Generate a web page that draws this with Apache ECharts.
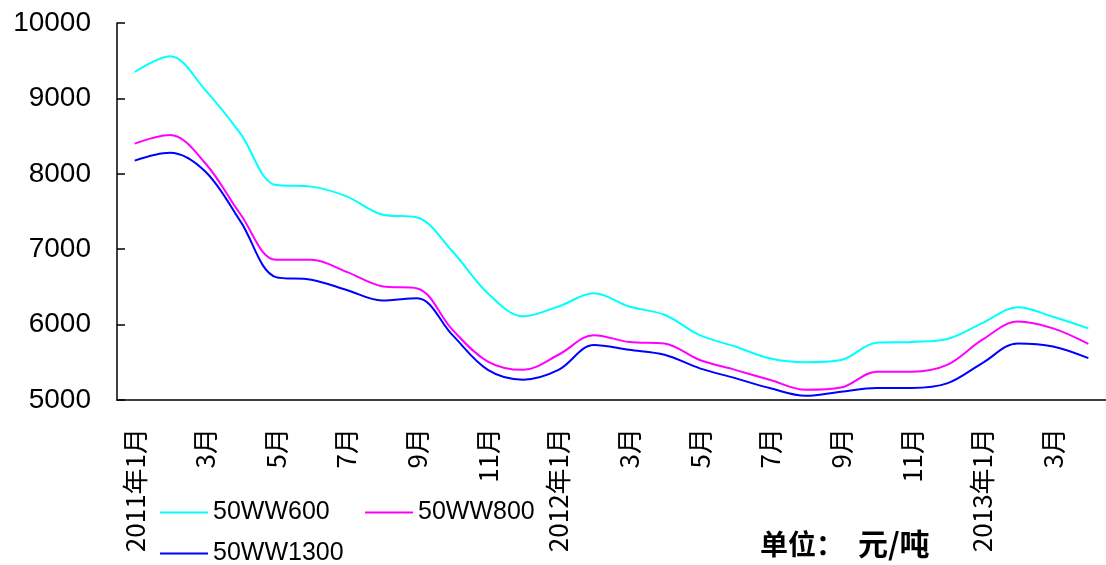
<!DOCTYPE html>
<html>
<head>
<meta charset="utf-8">
<script src="https://cdn.jsdelivr.net/npm/echarts@6/dist/echarts.min.js"></script>
<style>
html,body{margin:0;padding:0;background:#fff;}
#chart{width:1106px;height:565px;}
</style>
</head>
<body>
<div id="chart"></div>
<script>
const categories = [
  "2011年1月","2月","3月","4月","5月","6月","7月","8月","9月","10月","11月","12月",
  "2012年1月","2月","3月","4月","5月","6月","7月","8月","9月","10月","11月","12月",
  "2013年1月","2月","3月","4月"
];
const s600 = [9350,9560,9110,8530,7850,7830,7700,7460,7420,6970,6415,6110,
              6240,6415,6240,6130,5860,5710,5550,5500,5530,5760,5770,5810,
              6020,6230,6105,5950];
const s800 = [8400,8515,8140,7460,6860,6860,6700,6510,6480,5930,5510,5400,
              5600,5860,5770,5750,5530,5400,5265,5135,5165,5376,5376,5465,
              5800,6040,5950,5745];
const s1300 = [8175,8280,8030,7365,6630,6595,6460,6320,6350,5860,5400,5270,
               5400,5730,5665,5600,5420,5290,5155,5055,5110,5160,5160,5220,
               5490,5750,5710,5555];
const seriesNames = ["50WW600","50WW800","50WW1300"];
const yTicks = {min:5000, max:10000, interval:1000};
const unitLabel = "单位：";
const unitValue = "元/吨";

const chart = echarts.init(document.getElementById('chart'));
const colors = ['#00ffff','#ff00ff','#0000ff'];
const legendFont = {fontFamily:'Liberation Sans', fontSize:25, color:'#000'};
function mkLegend(name, left, top){
  return {
    data:[{name:name, icon:'rect'}],
    left:left, top:top, itemWidth:48, itemHeight:2, itemGap:8,
    textStyle:legendFont, padding:0
  };
}
chart.setOption({
  backgroundColor:'#fff',
  animation:false,
  grid:{left:117, right:0, top:23, bottom:165, containLabel:false},
  legend:[
    mkLegend(seriesNames[0],160,500),
    mkLegend(seriesNames[1],365,500),
    mkLegend(seriesNames[2],160,541)
  ],
  graphic:[
    {type:'text', left:760, top:530,
     style:{text:unitLabel, font:'bold 28px "Noto Sans CJK SC"', fill:'#000'}},
    {type:'text', left:858, top:529,
     style:{text:unitValue, font:'bold 30px "Noto Sans CJK SC"', fill:'#000'}}
  ],
  xAxis:{
    type:'category', data:categories, boundaryGap:true,
    axisLine:{lineStyle:{color:'#000', width:1.5}},
    axisTick:{inside:true, length:8, interval:0, lineStyle:{color:'#000', width:1.5}},
    axisLabel:{interval:1, rotate:90, margin:28, color:'#000',
      fontFamily:'Noto Sans CJK SC', fontSize:26},
    splitLine:{show:false}
  },
  yAxis:{
    type:'value', min:yTicks.min, max:yTicks.max, interval:yTicks.interval,
    axisLine:{show:true, lineStyle:{color:'#000', width:1.5}},
    axisTick:{show:true, inside:true, length:8, lineStyle:{color:'#000', width:1.5}},
    axisLabel:{margin:26, color:'#000', fontFamily:'Liberation Sans', fontSize:28,
      formatter:function(v){return String(v);}},
    splitLine:{show:false}
  },
  series:[s600,s800,s1300].map((d,i)=>({
    name:seriesNames[i], type:'line', data:d, smooth:0.35,
    symbol:'none', showSymbol:false,
    lineStyle:{color:colors[i], width:2},
    itemStyle:{color:colors[i]}
  }))
});
</script>
</body>
</html>
